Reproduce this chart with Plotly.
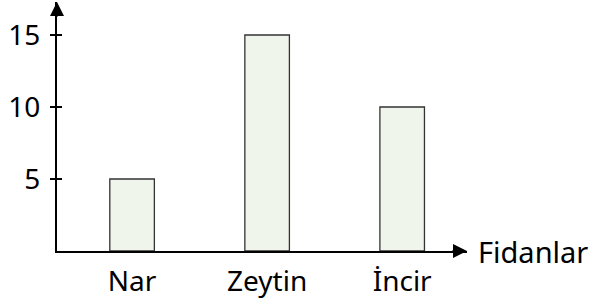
import plotly.graph_objects as go

categories = ["Nar", "Zeytin", "İncir"]
values = [5, 15, 10]
y_ticks = [5, 10, 15]
x_title = "Fidanlar"

FONT = "Noto Sans"

fig = go.Figure()
fig.add_trace(go.Bar(
    x=categories, y=values, width=0.33,
    marker=dict(color="#eff5ea", line=dict(color="#333333", width=1.3)),
    showlegend=False, hoverinfo="skip",
))
# invisible trace to hold the overlay axis (inner tick halves)
fig.add_trace(go.Scatter(x=[categories[0]], y=[0], yaxis="y2", mode="markers",
                         marker=dict(opacity=0), showlegend=False, hoverinfo="skip"))

yr = [0, 17.29]
fig.update_layout(
    width=599, height=298,
    margin=dict(l=57, r=132, t=2, b=47, autoexpand=False),
    paper_bgcolor="white", plot_bgcolor="white",
    font=dict(family=FONT, color="black", size=28),
    xaxis=dict(
        type="category", range=[-0.556, 2.48],
        showline=True, linecolor="black", linewidth=2,
        showgrid=False, zeroline=False, ticks="",
        tickfont=dict(size=28, family=FONT),
        ticklabelstandoff=4,
        automargin=False,
    ),
    yaxis=dict(
        range=yr, tickvals=y_ticks,
        showline=True, linecolor="black", linewidth=2,
        showgrid=False, zeroline=False,
        ticks="outside", ticklen=5, tickwidth=1.5, tickcolor="black",
        tickfont=dict(size=28, family=FONT),
        ticklabelstandoff=4,
        automargin=False,
    ),
    yaxis2=dict(
        range=yr, tickvals=y_ticks, overlaying="y", side="left", anchor="x",
        showline=False, showgrid=False, zeroline=False,
        ticks="inside", ticklen=5, tickwidth=1.5, tickcolor="black",
        showticklabels=False,
    ),
    bargap=0,
)

# arrowheads at the ends of the axes
fig.add_annotation(x=0, y=1, xref="paper", yref="paper", text="",
                   showarrow=True, ax=0, ay=16, axref="pixel", ayref="pixel",
                   arrowhead=2, arrowsize=1.4, arrowwidth=2, arrowcolor="black")
fig.add_annotation(x=1, y=0, xref="paper", yref="paper", text="",
                   showarrow=True, ax=-16, ay=0, axref="pixel", ayref="pixel",
                   arrowhead=2, arrowsize=1.4, arrowwidth=2, arrowcolor="black")
fig.add_annotation(x=1, y=0, xref="paper", yref="paper", text=x_title,
                   showarrow=False, xanchor="left", yanchor="middle", xshift=9,
                   font=dict(size=29, family=FONT, color="black"))

fig.write_html("out.html",
               config=dict(displayModeBar=False, staticPlot=True),
               post_script="document.body.style.margin='0';document.body.style.overflow='hidden';")
